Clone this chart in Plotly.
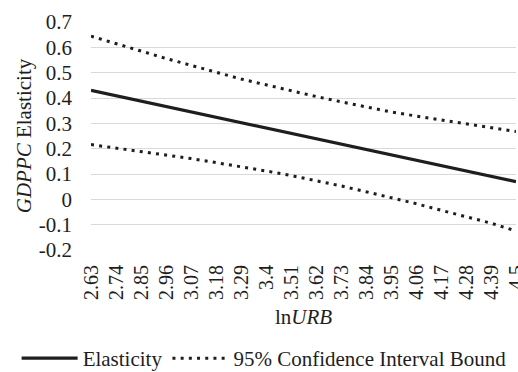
import plotly.graph_objects as go

ln_urb = [2.63, 2.74, 2.85, 2.96, 3.07, 3.18, 3.29, 3.40, 3.51, 3.62,
          3.73, 3.84, 3.95, 4.06, 4.17, 4.28, 4.39, 4.50]
tick_labels = ["2.63", "2.74", "2.85", "2.96", "3.07", "3.18", "3.29", "3.4", "3.51",
               "3.62", "3.73", "3.84", "3.95", "4.06", "4.17", "4.28", "4.39", "4.5"]
elasticity = [0.430, 0.409, 0.388, 0.366, 0.345, 0.324, 0.303, 0.282, 0.261,
              0.239, 0.218, 0.197, 0.176, 0.155, 0.134, 0.112, 0.091, 0.070]
upper_bound = [0.644, 0.614, 0.584, 0.556, 0.529, 0.502, 0.475, 0.452, 0.428,
               0.406, 0.385, 0.364, 0.345, 0.329, 0.313, 0.297, 0.283, 0.268]
lower_bound = [0.216, 0.203, 0.189, 0.175, 0.161, 0.145, 0.129, 0.112, 0.094,
               0.074, 0.053, 0.030, 0.008, -0.017, -0.043, -0.067, -0.094, -0.125]
y_ticks = [0.7, 0.6, 0.5, 0.4, 0.3, 0.2, 0.1, 0, -0.1, -0.2]
y_tick_labels = ["0.7", "0.6", "0.5", "0.4", "0.3", "0.2", "0.1", "0", "-0.1", "-0.2"]

FONT = "Liberation Serif, Times New Roman, serif"
INK = "#1e1e1e"
DOT = "3px,5.2px"

fig = go.Figure()
fig.add_trace(go.Scatter(x=ln_urb, y=elasticity, mode="lines", name="Elasticity",
                         line=dict(color=INK, width=3.2)))
fig.add_trace(go.Scatter(x=ln_urb, y=upper_bound, mode="lines",
                         name="95% Confidence Interval Bound",
                         line=dict(color=INK, width=3, dash=DOT)))
fig.add_trace(go.Scatter(x=ln_urb, y=lower_bound, mode="lines",
                         name="95% Confidence Interval Bound",
                         showlegend=False,
                         line=dict(color=INK, width=3, dash=DOT)))

fig.update_layout(
    width=518, height=372,
    margin=dict(l=91, r=2, t=22, b=122, autoexpand=False),
    paper_bgcolor="white", plot_bgcolor="white",
    font=dict(family=FONT, size=21, color=INK),
    showlegend=True,
    legend=dict(orientation="h", xref="paper", yref="paper",
                x=-0.175, xanchor="left", y=-0.566, yanchor="bottom",
                traceorder="normal", itemwidth=56,
                font=dict(family=FONT, size=21, color=INK)),
    xaxis=dict(range=[ln_urb[0], ln_urb[-1]], tickmode="array",
               tickvals=ln_urb, ticktext=tick_labels, tickangle=-90,
               showgrid=False, zeroline=False, showline=False, ticks="",
               ticklabelstandoff=10, ticklabeloverflow="allow",
               tickfont=dict(family=FONT, size=20, color=INK),
               title=dict(text="ln<i>URB</i>", standoff=10,
                          font=dict(family=FONT, size=21, color=INK))),
    yaxis=dict(range=[-0.2, 0.7], tickmode="array", tickvals=y_ticks,
               ticktext=y_tick_labels, showgrid=True, gridcolor="#d9d9d9",
               gridwidth=1.3, zeroline=False, showline=False, ticks="",
               ticklabelstandoff=18,
               tickfont=dict(family=FONT, size=21, color=INK),
               title=dict(text="<i>GDPPC</i> Elasticity", standoff=1,
                          font=dict(family=FONT, size=21, color=INK))),
)

fig.write_html("out.html",
               config={"displayModeBar": False},
               post_script="document.body.style.margin='0';"
                           "document.body.style.padding='0';"
                           "document.body.style.overflow='hidden';")
